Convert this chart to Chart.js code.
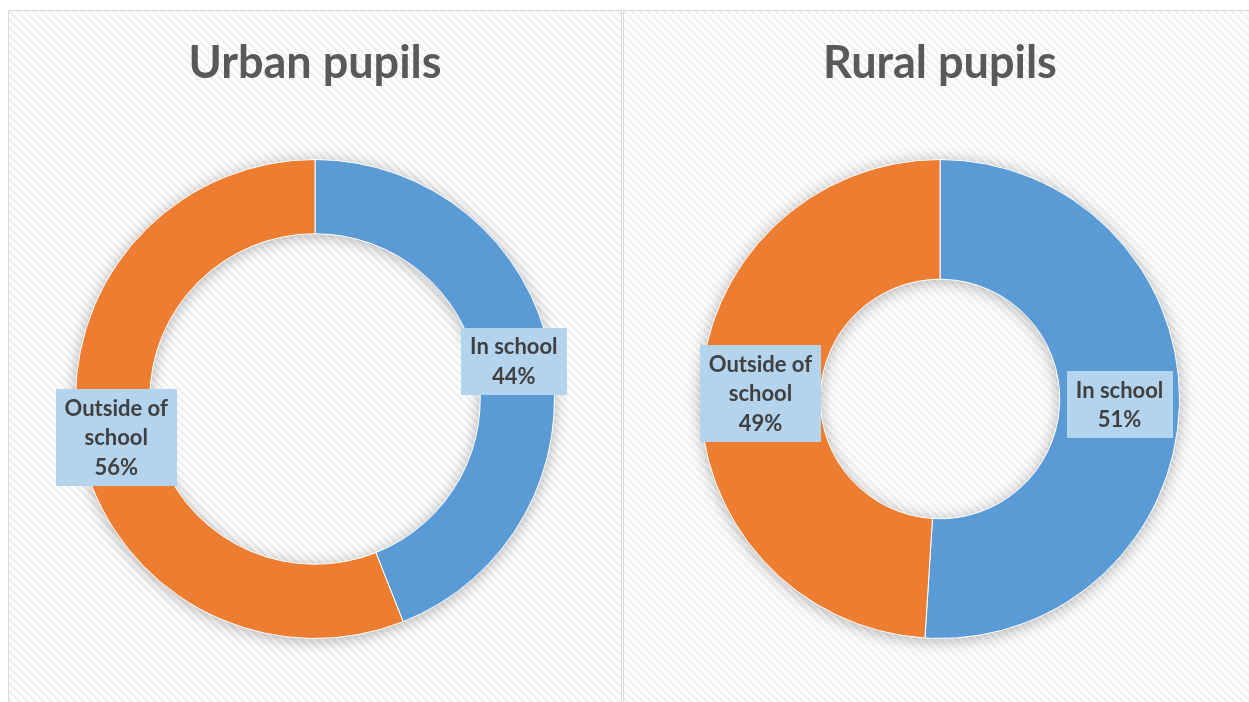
<!DOCTYPE html>
<html>
<head>
<meta charset="utf-8">
<script src="https://cdn.jsdelivr.net/npm/chart.js@4.4.1/dist/chart.umd.min.js"></script>
<style>
  html, body { margin: 0; padding: 0; background: #ffffff; }
  body { width: 1249px; height: 702px; position: relative; overflow: hidden; }
  .panel { position: absolute; top: 10px; height: 700px; border: 1px solid #d9d9d9; box-sizing: border-box; }
  #p1 { left: 8px; width: 614px; }
  #p2 { left: 623px; width: 634px; }
  canvas { display: block; }
</style>
</head>
<body>
<div class="panel" id="p1"><canvas id="urban" width="612" height="692"></canvas></div>
<div class="panel" id="p2"><canvas id="rural" width="632" height="692"></canvas></div>
<script>
// Share of pupils by location of activity
const categories = ['In school', 'Outside of school'];
const urbanValues = [44, 56];
const ruralValues = [51, 49];
const titles = ['Urban pupils', 'Rural pupils'];
const labelLines = [['In school'], ['Outside of', 'school']];

const seriesColors = ['#5B9BD5', '#ED7D31'];
const FONT = 'Lato, "Open Sans", sans-serif';

// Light diagonal hatch used as the panel background
function hatchPattern(ctx) {
  const t = document.createElement('canvas');
  t.width = 8; t.height = 8;
  const c = t.getContext('2d');
  c.fillStyle = '#ffffff';
  c.fillRect(0, 0, 8, 8);
  c.strokeStyle = '#f0f0f0';
  c.lineWidth = 2.5;
  c.beginPath();
  c.moveTo(-2, -2); c.lineTo(10, 10);
  c.moveTo(-2, 6); c.lineTo(2, 10);
  c.moveTo(6, -2); c.lineTo(10, 2);
  c.stroke();
  return ctx.createPattern(t, 'repeat');
}

const backgroundPlugin = {
  id: 'hatchBackground',
  beforeDraw(chart) {
    const ctx = chart.ctx;
    ctx.save();
    ctx.fillStyle = hatchPattern(ctx);
    ctx.fillRect(0, 0, chart.width, chart.height);
    ctx.restore();
  }
};

// Soft shadow ring under the doughnut
const ringShadowPlugin = {
  id: 'ringShadow',
  beforeDatasetsDraw(chart) {
    const arc = chart.getDatasetMeta(0).data[0];
    if (!arc) return;
    const { x, y, innerRadius, outerRadius } = arc.getProps(['x', 'y', 'innerRadius', 'outerRadius'], true);
    const ctx = chart.ctx;
    ctx.save();
    ctx.shadowColor = 'rgba(0,0,0,0.3)';
    ctx.shadowBlur = 16;
    ctx.shadowOffsetX = 0;
    ctx.shadowOffsetY = 2;
    ctx.fillStyle = '#ffffff';
    ctx.beginPath();
    ctx.arc(x, y, outerRadius, 0, Math.PI * 2);
    ctx.arc(x, y, innerRadius, 0, Math.PI * 2, true);
    ctx.closePath();
    ctx.fill();
    ctx.restore();
  }
};

// Boxed data labels: category name plus percentage
const boxLabelPlugin = {
  id: 'boxLabels',
  afterDatasetsDraw(chart) {
    const ctx = chart.ctx;
    const meta = chart.getDatasetMeta(0);
    const values = chart.data.datasets[0].data;
    const total = values.reduce((a, b) => a + b, 0);
    const fontSize = 22, lineH = 29.5, padX = 9, padY = 4;
    ctx.save();
    ctx.font = 'bold ' + fontSize + 'px ' + FONT;
    ctx.textAlign = 'center';
    ctx.textBaseline = 'middle';
    meta.data.forEach((arc, i) => {
      const p = arc.tooltipPosition();
      const lines = labelLines[i].concat([Math.round(values[i] / total * 100) + '%']);
      const w = Math.max(...lines.map(l => ctx.measureText(l).width)) + padX * 2;
      const h = lines.length * lineH + padY * 2;
      ctx.fillStyle = '#B4D3ED';
      ctx.fillRect(Math.round(p.x - w / 2), Math.round(p.y - h / 2), Math.round(w), Math.round(h));
      ctx.fillStyle = '#404040';
      lines.forEach((l, k) => {
        ctx.fillText(l, p.x, p.y - h / 2 + padY + lineH * (k + 0.5) + 1);
      });
    });
    ctx.restore();
  }
};

function makeChart(id, values, title, cutout) {
  return new Chart(document.getElementById(id), {
    type: 'doughnut',
    data: {
      labels: categories,
      datasets: [{
        data: values,
        backgroundColor: seriesColors,
        borderColor: '#ffffff',
        borderWidth: 1,
        hoverOffset: 0
      }]
    },
    options: {
      responsive: false,
      animation: false,
      cutout: cutout,
      layout: { padding: { top: 0, bottom: 64, left: 0, right: 0 } },
      plugins: {
        legend: { display: false },
        tooltip: { enabled: false },
        title: {
          display: true,
          text: title,
          color: '#595959',
          font: { family: FONT, size: 45, weight: 'bold', lineHeight: 1.2 },
          padding: { top: 25, bottom: 69 }
        }
      }
    },
    plugins: [backgroundPlugin, ringShadowPlugin, boxLabelPlugin]
  });
}

makeChart('urban', urbanValues, titles[0], '69%');
makeChart('rural', ruralValues, titles[1], '50%');
</script>
</body>
</html>
